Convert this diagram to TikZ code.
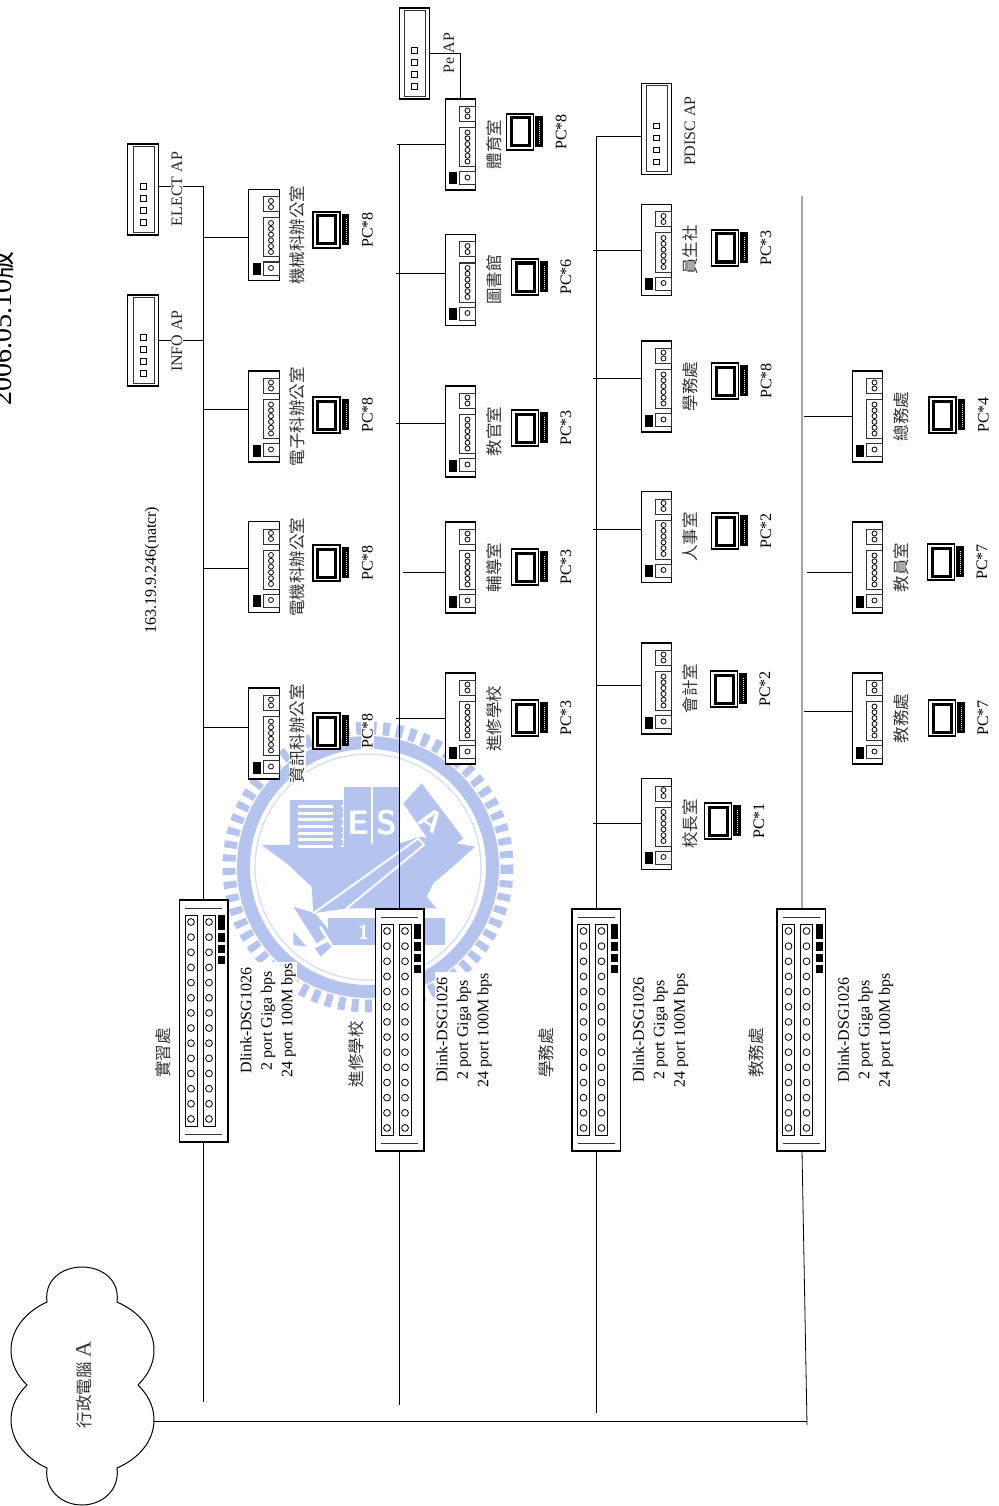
\documentclass[tikz,border=0pt]{standalone}
\usepackage{fontspec}
\setmainfont{Liberation Serif}
\newfontfamily\cjk{Noto Sans CJK TC}
\definecolor{wmblue}{HTML}{B4C4EE}
\tikzstyle{swbox}=[rectangle,draw=black,fill=white,line width=1.4pt,
                   inner sep=0pt,minimum width=30.5pt,minimum height=91pt]
\tikzstyle{corebox}=[rectangle,draw=black,fill=white,line width=1.5pt,
                     inner sep=0pt,minimum width=48.5pt,minimum height=242pt]
\tikzstyle{apbox}=[rectangle,draw=black,fill=white,line width=1.4pt,
                   inner sep=0pt,minimum width=30.5pt,minimum height=91pt]
\tikzstyle{thinbox}=[draw=black!80,line width=1pt]
\tikzstyle{portdot}=[draw=black,line width=0.8pt]
\tikzstyle{latintext}=[rotate=90,inner sep=1pt,font=\fontsize{16}{20.5}\selectfont]
\tikzstyle{roomtext}=[rotate=90,inner sep=1pt,fill=white,font=\cjk\fontsize{16.5}{17}\selectfont,text=black!80]
\tikzstyle{wmtext}=[text=white,font=\sffamily\bfseries\fontsize{34}{34}\selectfont,inner sep=0pt]

\newcommand{\roomswitch}[9]{%
  \node (#1) at (#2,#3) [swbox]{};
  \coordinate (#1tap) at (#5,#6);
  \draw (#1tap) -- (#1tap -| #1.west);
  \begin{scope}[shift={(#2,#3)}]
    \draw[thinbox] (-1,-38) rectangle (15,-23);
    \draw[thinbox] (-1,-17) rectangle (15,22);
    \draw[thinbox] (-1,27) rectangle (15,40);
    \fill[black] (-11.5,28) rectangle (-3.5,40);
    \foreach \k in {-34,-28,33}
      \draw[portdot] (7,\k) circle (2.5);
    \foreach \k in {0,...,5}
      \draw[portdot] (7,{-12+5.8*\k}) circle (2.5);
  \end{scope}
  \node (#1name) at ({#2+33.5},#3) [roomtext]{#4};
  \begin{scope}[shift={(#7,#8)}]
    \draw[line width=1.2pt,fill=white] (-13.5,-18) rectangle (13.5,18);
    \draw[line width=3pt] (-9,-14) rectangle (9,14);
    \fill[black] (15.2,-16) rectangle (22.7,15);
    \draw[white,line width=0.9pt,dash pattern=on 1pt off 1pt] (19.5,-11) -- (19.5,12);
  \end{scope}
  \node (#1pc) at ({#7+41},#8) [latintext,fill=white]{PC*#9};
}
\newcommand{\coreswitch}[3]{%
  \node (#1) at (#2,#3) [corebox]{};
  \begin{scope}[shift={(#2,#3)}]
    \draw[thinbox] (-18.5,-113) -- (18.5,-113);
    \draw[thinbox] (-18.5,113) -- (18.5,113);
    \draw[line width=0.9pt] (-18.5,-106) rectangle (-6.5,105);
    \draw[line width=0.9pt] (-0.5,-106) rectangle (11.5,105);
    \foreach \k in {0,...,13} {
      \draw[portdot] (-12.5,{-99+15.15*\k}) circle (3.4);
      \draw[portdot] (5.5,{-99+15.15*\k}) circle (3.4);
    }
    \fill[black] (14.5,-106) rectangle (21.5,-91);
    \fill[black] (14.5,-88) rectangle (21.5,-79);
    \fill[black] (14.5,-76) rectangle (21.5,-68);
    \fill[black] (14.5,-65) rectangle (21.5,-57);
  \end{scope}
}
\newcommand{\apunit}[3]{%
  \node (#1) at (#2,#3) [apbox]{};
  \begin{scope}[shift={(#2,#3)}]
    \draw[thinbox] (-10,-43) rectangle (11,43);
    \foreach \k in {-3,9,21,33}
      \draw[line width=0.9pt] (-3,{\k-2.7}) rectangle (3,{\k+2.7});
  \end{scope}
}

\begin{document}
\begin{tikzpicture}[x=1pt,y=-1pt,line width=0.8pt]
    \useasboundingbox (0,0) rectangle (998,1506);

    % watermark behind everything
    \draw[wmblue,line width=13pt,dash pattern=on 7pt off 6.4pt] (368,867) circle (139);
    \draw[wmblue,line width=13pt] (368,867) circle (124.5);
    \draw[wmblue!60,line width=1.2pt] (368,867) circle (113);
    \begin{scope}[shift={(200,700)},scale=0.3333]
      \fill[wmblue] (270,300) rectangle (430,440);
      \fill[wmblue] (432,260) rectangle (512,435);
      \fill[wmblue] (520,260) rectangle (600,435);
      \fill[wmblue] (610,310) -- (665,250) -- (790,415) -- (720,470) -- cycle;
      \fill[wmblue] (185,435) -- (600,430) -- (660,410) -- (825,440) -- (770,490)
        -- (700,550) -- (680,590) -- (710,625) -- (440,625) -- (340,640)
        -- (335,560) -- (260,490) -- cycle;
      \fill[wmblue] (280,620) -- (345,640) -- (395,700) -- (350,730) -- cycle;
      \fill[wmblue] (385,655) rectangle (735,735);
      \fill[wmblue] (280,695) -- (320,740) -- (280,735) -- cycle;
      \fill[wmblue] (345,745) -- (392,722) -- (395,740) -- (362,770) -- cycle;
      \foreach \k in {315,335,...,435}
        \fill[white] (295,\k) rectangle (400,{\k+9});
      \foreach \k in {315,335,...,435}
        \fill[white] (424,\k) rectangle (432,{\k+5});
      \draw[white,line width=2pt] (340,640) -- (655,415) -- (672,435) -- (440,625);
      \draw[white,line width=2.5pt] (360,680) -- (395,735);
      \draw[white,line width=2pt] (775,530) circle (22);
      \node (wmE) at (476,368) [wmtext]{E};
      \node (wmS) at (561,368) [wmtext]{S};
      \node (wmA) at (695,362) [wmtext,rotate=-35,font=\sffamily\bfseries\fontsize{30}{30}\selectfont]{A};
      \node (wmone) at (491,696) [wmtext,font=\sffamily\bfseries\fontsize{20}{20}\selectfont]{1};
    \end{scope}

    \node (title) at (11,328) [rotate=90,anchor=base,inner sep=0pt,
        font=\fontsize{28}{28}\selectfont]{2006.05.10{\cjk 版}};

    % bus lines
    \coordinate (bus1top) at (203.5,186);
    \coordinate (bus1end) at (203.5,1402);
    \coordinate (bus2top) at (399.5,144.5);
    \coordinate (bus2end) at (399.5,1405);
    \coordinate (bus3top) at (596,136);
    \coordinate (bus3end) at (596,1413);
    \coordinate (bus4top) at (802,196);
    \coordinate (bus4mid) at (802,1151);
    \coordinate (bus4end) at (807,1425);
    \coordinate (bus4join) at (807,1421);
    \coordinate (cloudport) at (154,1421);
    \draw (bus1top) -- (bus1end);
    \draw (bus2top) -- (bus2end);
    \draw (bus3top) -- (bus3end);
    \draw (bus4top) -- (bus4mid) -- (bus4end);

    % cloud
    \draw[line width=1pt,fill=white] (47,1302) .. controls (44,1280) and (62,1267) .. (82,1267)
      .. controls (102,1267) and (120,1280) .. (117,1302)
      .. controls (140,1312) and (154,1330) .. (154,1350)
      .. controls (154,1365) and (147,1376) .. (138,1385)
      .. controls (147,1394) and (154,1405) .. (154,1420)
      .. controls (154,1440) and (140,1458) .. (117,1468)
      .. controls (120,1490) and (102,1505) .. (82,1505)
      .. controls (62,1505) and (44,1490) .. (47,1468)
      .. controls (25,1458) and (11,1440) .. (11,1420)
      .. controls (11,1405) and (18,1394) .. (27,1385)
      .. controls (18,1376) and (11,1365) .. (11,1350)
      .. controls (11,1330) and (25,1312) .. (47,1302) -- cycle;
    \node (cloudtext) at (84,1385) [rotate=90,inner sep=0pt,text=black!80,
        font=\fontsize{16.5}{17}\selectfont]{{\cjk 行政電腦} {\fontsize{22}{22}\selectfont A}};
    \draw (cloudport) -- (bus4join);

    % big switches
    \coreswitch{coreA}{203.5}{1021}
    \coreswitch{coreB}{399.5}{1030}
    \coreswitch{coreC}{596}{1030}
    \coreswitch{coreD}{801}{1030}
    \node (coreAname) at (163,1053) [roomtext,fill=none]{實習處};
    \node (coreBname) at (356,1054) [roomtext,fill=none]{進修學校};
    \node (coreCname) at (546,1053) [roomtext,fill=none]{學務處};
    \node (coreDname) at (756,1053) [roomtext,fill=none]{教務處};
    \node (coreAtext) at (268,1020.5) [latintext,fill=white,align=center]{Dlink-DSG1026\\2 port Giga bps\\24 port  100M bps};
    \node (coreBtext) at (464,1030) [latintext,fill=white,align=center]{Dlink-DSG1026\\2 port Giga bps\\24 port  100M bps};
    \node (coreCtext) at (660.5,1030) [latintext,align=center]{Dlink-DSG1026\\2 port Giga bps\\24 port  100M bps};
    \node (coreDtext) at (865.5,1030) [latintext,align=center]{Dlink-DSG1026\\2 port Giga bps\\24 port  100M bps};
    \node (iptext) at (152,570) [latintext]{163.19.9.246(natcr)};

    % access points
    \apunit{elect}{143}{189.5}
    \apunit{info}{143}{340.5}
    \apunit{peap}{414.5}{53.5}
    \apunit{pdisc}{656.5}{129}
    \coordinate (electbus) at (203.5,186);
    \coordinate (infobus) at (203.5,340);
    \coordinate (pebend) at (460.5,53);
    \coordinate (pdiscbus) at (596,136);
    \draw (elect.east |- electbus) -- (electbus);
    \draw (info.east |- infobus) -- (infobus);
    \draw (pdiscbus) -- (pdiscbus -| pdisc.west);
    \node (electtext) at (177,189) [latintext,fill=white,text=black!85]{ELECT AP};
    \node (infotext) at (177,341) [latintext,fill=white,text=black!85]{INFO AP};
    \node (petext) at (449,53) [latintext,text=black!85]{Pe AP};
    \node (pdisctext) at (690,131) [latintext,text=black!85]{PDISC AP};

    % rooms
    \roomswitch{mech}{264}{235}{機械科辦公室}{203.5}{237}{326.5}{230}{8}
    \roomswitch{elec}{264}{416.5}{電子科辦公室}{203.5}{409}{326.5}{415}{8}
    \roomswitch{power}{264}{567}{電機科辦公室}{203.5}{568}{326.5}{563}{8}
    \roomswitch{csie}{264}{733.5}{資訊科辦公室}{203.5}{727}{326.5}{731}{8}

    \roomswitch{gym}{460.5}{144.5}{體育室}{397}{144.5}{520}{132}{8}
    \roomswitch{lib}{460.5}{280}{圖書館}{396}{273}{525}{277}{6}
    \roomswitch{army}{460.5}{431.5}{教官室}{396}{423}{525}{428}{3}
    \roomswitch{guide}{460.5}{567.5}{輔導室}{403}{572}{525}{567}{3}
    \roomswitch{night}{460.5}{718.5}{進修學校}{396}{718}{525}{718}{3}
    \draw (peap.east |- pebend) -- (pebend) -- (pebend |- gym.north);

    \roomswitch{coop}{656.5}{250}{員生社}{593}{250}{725}{248}{3}
    \roomswitch{stud}{656.5}{386.5}{學務處}{593}{378}{725}{381}{8}
    \roomswitch{staff}{656.5}{537}{人事室}{593}{529}{725}{531}{2}
    \roomswitch{acct}{656.5}{688.5}{會計室}{596}{685}{724}{689}{2}
    \roomswitch{head}{656.5}{824}{校長室}{593}{823}{718}{821}{1}

    \roomswitch{gena}{867.5}{416.5}{總務處}{804}{416}{942.5}{415}{4}
    \roomswitch{teach}{867.5}{567.5}{教員室}{807}{572}{941}{562}{7}
    \roomswitch{acad}{867.5}{718.5}{教務處}{804}{711}{942}{718}{7}
\end{tikzpicture}
\end{document}
